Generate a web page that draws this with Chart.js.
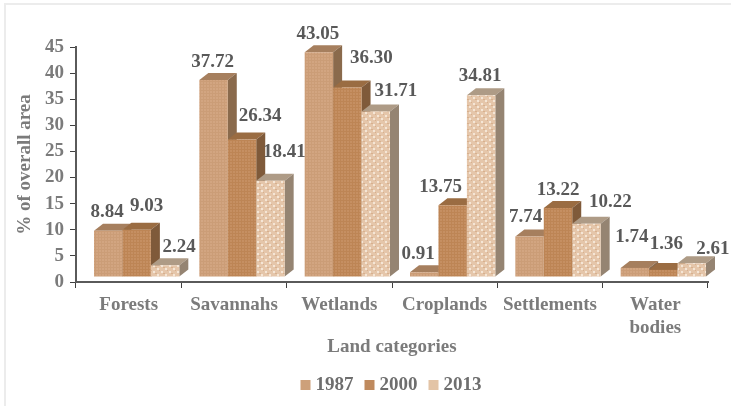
<!DOCTYPE html>
<html>
<head>
<meta charset="utf-8">
<title>Land categories</title>
<script src="https://cdn.jsdelivr.net/npm/chart.js@4/dist/chart.umd.min.js"></script>
<style>
    html, body { margin: 0; padding: 0; background: #fff; }
    #wrap { position: relative; width: 731px; height: 406px; overflow: hidden; }
    #frame { position: absolute; left: 4px; top: 3px; width: 740px; height: 420px; border: 2px solid #ececec; }
    #chart { position: absolute; left: 0; top: 0; }
</style>
</head>
<body>
<div id="wrap">
    <div id="frame"></div>
    <canvas id="chart" width="731" height="406"></canvas>
</div>
<script>
// Dados do gráfico
const categories = ['Forests', 'Savannahs', 'Wetlands', 'Croplands', 'Settlements', ['Water', 'bodies']];
const years = ['1987', '2000', '2013'];
const values1987 = [8.84, 37.72, 43.05, 0.91, 7.74, 1.74];
const values2000 = [9.03, 26.34, 36.30, 13.75, 13.22, 1.36];
const values2013 = [2.24, 18.41, 31.71, 34.81, 10.22, 2.61];
const series = [values1987, values2000, values2013];

// Deslocamento de cada rótulo em relação ao topo da barra
const labelShift1987 = [[-1, -19], [-1, -18], [-1, -18], [-6, -18], [-4, -19], [-3, -31]];
const labelShift2000 = [[10, -24], [18, -23], [24, -29], [-12, -18], [0, -18], [3, -26]];
const labelShift2013 = [[14, -18], [14, -29], [20, -20], [-1, -19], [24, -22], [21, -14]];
const labelShifts = [labelShift1987, labelShift2000, labelShift2013];

// Cores das faces de cada série
const legendColors = ['#cda07a', '#bf8a5e', '#e3c4a6'];
const sideColors = ['#8a6a4c', '#7f5a3a', '#958472'];
const topColors = ['#a67f5e', '#9a6c42', '#ae9b86'];

const serif = '"Liberation Serif", "Times New Roman", serif';
const depthX = 9;
const depthY = 7;
const shiftX = 8;
const shiftY = -5;

// Textura de cada série, desenhada num canvas pequeno
function makeTexture(kind) {
    const c = document.createElement('canvas');
    const g = c.getContext('2d');
    if (kind === 0) {
        c.width = 3; c.height = 3;
        g.fillStyle = '#d2a581';
        g.fillRect(0, 0, 3, 3);
        g.fillStyle = '#cb9d77';
        g.fillRect(0, 0, 1, 3);
        g.fillRect(0, 2, 3, 1);
    } else if (kind === 1) {
        c.width = 3; c.height = 3;
        g.fillStyle = '#c58f62';
        g.fillRect(0, 0, 3, 3);
        g.fillStyle = '#bd8555';
        g.fillRect(0, 1, 3, 1);
        g.fillRect(2, 0, 1, 3);
    } else {
        c.width = 8; c.height = 6;
        g.fillStyle = '#e5c6aa';
        g.fillRect(0, 0, 8, 6);
        g.fillStyle = '#f5e6d6';
        g.fillRect(1, 0, 2, 2);
        g.fillRect(5, 3, 2, 2);
        g.fillStyle = '#d7b08e';
        g.fillRect(3, 2, 2, 1);
        g.fillRect(7, 5, 1, 1);
    }
    return g.createPattern(c, 'repeat');
}

// Faces superior e lateral de uma série
function drawDepth(ctx, bars, i) {
    bars.forEach(bar => {
        const left = bar.x - bar.width / 2;
        const right = bar.x + bar.width / 2;
        ctx.fillStyle = topColors[i];
        ctx.beginPath();
        ctx.moveTo(left, bar.y);
        ctx.lineTo(left + depthX, bar.y - depthY);
        ctx.lineTo(right + depthX, bar.y - depthY);
        ctx.lineTo(right, bar.y);
        ctx.closePath();
        ctx.fill();
        ctx.fillStyle = sideColors[i];
        ctx.beginPath();
        ctx.moveTo(right, bar.y);
        ctx.lineTo(right + depthX, bar.y - depthY);
        ctx.lineTo(right + depthX, bar.base - depthY);
        ctx.lineTo(right, bar.base);
        ctx.closePath();
        ctx.fill();
    });
}

// As séries são desenhadas da esquerda para a direita, para a barra seguinte cobrir a anterior
const depthPlugin = {
    id: 'depthFaces',
    beforeDatasetsDraw(chart) {
        const ctx = chart.ctx;
        ctx.save();
        ctx.translate(shiftX, shiftY);
        series.forEach((values, i) => {
            const meta = chart.getDatasetMeta(i);
            drawDepth(ctx, meta.data, i);
            meta.controller.draw();
        });
        ctx.font = 'bold 19px ' + serif;
        ctx.fillStyle = '#595959';
        ctx.textAlign = 'center';
        ctx.textBaseline = 'middle';
        series.forEach((values, i) => {
            chart.getDatasetMeta(i).data.forEach((bar, j) => {
                const shift = labelShifts[i][j];
                ctx.fillText(values[j].toFixed(2), bar.x + shift[0], bar.y + shift[1]);
            });
        });
        ctx.restore();
        return false;
    }
};

// Legenda com o texto bem junto do quadrado de cor
const yearLegend = {
    id: 'yearLegend',
    afterDraw(chart) {
        const ctx = chart.ctx;
        const area = chart.chartArea;
        ctx.save();
        ctx.font = 'bold 19px ' + serif;
        ctx.textAlign = 'left';
        ctx.textBaseline = 'middle';
        const widths = years.map(year => ctx.measureText(year).width + 15);
        const total = widths.reduce((a, b) => a + b, 0) + 11 * (years.length - 1);
        let x = (area.left + area.right) / 2 - total / 2 - 1;
        years.forEach((year, i) => {
            ctx.fillStyle = legendColors[i];
            ctx.fillRect(x, 380, 10, 10);
            ctx.fillStyle = '#6e6e6e';
            ctx.fillText(year, x + 15, 385);
            x += widths[i] + 11;
        });
        ctx.restore();
    }
};

const chart = new Chart(document.getElementById('chart').getContext('2d'), {
    type: 'bar',
    data: {
        labels: categories,
        datasets: series.map((values, i) => ({
            label: years[i],
            data: values,
            backgroundColor: makeTexture(i),
            borderWidth: 0,
            categoryPercentage: 0.81,
            barPercentage: 1
        }))
    },
    options: {
        responsive: false,
        animation: false,
        layout: { padding: { top: 47, right: 23, bottom: 36, left: 0 } },
        plugins: {
            tooltip: { enabled: false },
            legend: { display: false }
        },
        scales: {
            x: {
                grid: { drawOnChartArea: false, tickLength: 6, tickColor: '#3f3f3f', lineWidth: 1 },
                border: { color: '#5a5a5a', width: 2 },
                ticks: {
                    color: '#7b7b7b',
                    maxRotation: 0,
                    autoSkip: false,
                    padding: 6,
                    font: { family: serif, size: 19, weight: 'bold' }
                },
                title: {
                    display: true,
                    text: 'Land categories',
                    color: '#7b7b7b',
                    padding: { top: 6, bottom: 12 },
                    font: { family: serif, size: 19, weight: 'bold' }
                },
                afterFit: scale => { scale.height = 88; }
            },
            y: {
                min: 0,
                max: 45,
                grid: { drawOnChartArea: false, tickLength: 6, tickColor: '#3f3f3f', lineWidth: 1 },
                border: { color: '#5a5a5a', width: 2 },
                ticks: {
                    stepSize: 5,
                    color: '#7b7b7b',
                    padding: 6,
                    font: { family: serif, size: 19, weight: 'bold' }
                },
                title: {
                    display: true,
                    text: '% of overall area',
                    color: '#7b7b7b',
                    padding: { top: 14, bottom: 0 },
                    font: { family: serif, size: 19, weight: 'bold' }
                },
                afterFit: scale => { scale.width = 76; }
            }
        }
    },
    plugins: [depthPlugin, yearLegend]
});
</script>
</body>
</html>
